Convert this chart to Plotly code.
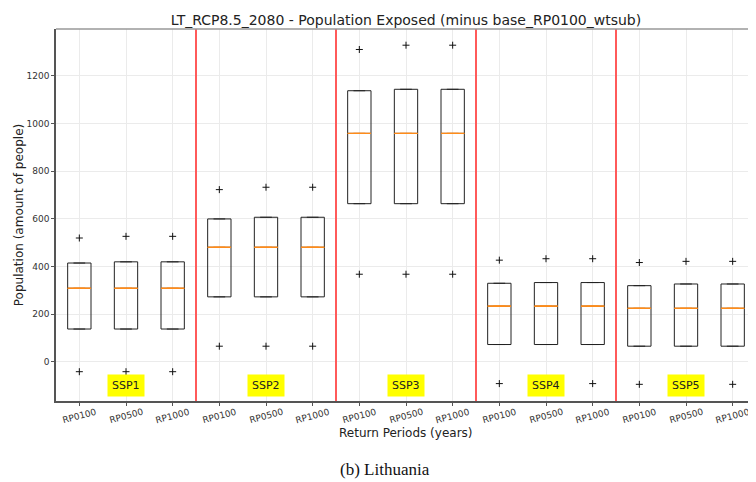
import plotly.graph_objects as go

groups = ["SSP1", "SSP2", "SSP3", "SSP4", "SSP5"]
return_periods = ["RP0100", "RP0500", "RP1000"]

q1 =     [138, 138, 138,   273, 273, 273,   664, 664, 664,   73, 73, 73,    66, 66, 66]
median = [309, 309, 309,   481, 481, 481,   959, 959, 959,   234, 234, 234, 225, 225, 225]
q3 =     [415, 420, 420,   600, 607, 607,   1138, 1144, 1144, 330, 333, 333, 320, 327, 327]
flier_high = [520, 527, 527, 723, 733, 733, 1311, 1329, 1329, 427, 433, 433, 417, 422, 422]
flier_low =  [-41, -41, -41, 66, 66, 66,    368, 368, 368,    -91, -91, -91, -94, -94, -94]

tick_labels = [rp for g in groups for rp in return_periods]
positions = list(range(len(tick_labels)))

fig = go.Figure()

fig.add_trace(go.Box(
    x=positions, q1=q1, median=median, q3=q3,
    lowerfence=q1, upperfence=q3,
    width=0.5, line=dict(color="#222222", width=1),
    fillcolor="rgba(0,0,0,0)", boxpoints=False, showlegend=False,
    hoverinfo="skip",
))
fig.add_trace(go.Box(
    x=positions, q1=median, median=median, q3=median,
    lowerfence=median, upperfence=median,
    width=0.5, line=dict(color="#ff8c1a", width=1),
    fillcolor="rgba(0,0,0,0)", boxpoints=False, showlegend=False,
    hoverinfo="skip",
))
fig.add_trace(go.Scatter(
    x=positions + positions, y=flier_high + flier_low, mode="markers",
    marker=dict(symbol="cross-thin", size=5, line=dict(color="#111111", width=1)),
    showlegend=False, hoverinfo="skip",
))

n = len(return_periods)
for i in range(1, len(groups)):
    fig.add_vline(x=i * n - 0.5, line=dict(color="#ff5a5a", width=2))

for i, g in enumerate(groups):
    fig.add_annotation(
        x=i * n + (n - 1) / 2, y=-100, text=g, showarrow=False,
        bgcolor="#ffff00", borderpad=4, yanchor="middle",
        font=dict(family="DejaVu Sans", size=11, color="#222222"),
    )

# rotated tick labels, centred under each tick (matplotlib style)
for p, lab in zip(positions, tick_labels):
    fig.add_annotation(
        x=p, y=-0.039, xref="x", yref="paper", text=lab, showarrow=False,
        textangle=-15, xanchor="center", yanchor="middle",
        font=dict(family="DejaVu Sans", size=9, color="#333333"),
    )

fig.add_annotation(
    x=0.47, y=-0.183, xref="paper", yref="paper", text="(b) Lithuania",
    showarrow=False, yanchor="middle",
    font=dict(family="Liberation Serif", size=17, color="#111111"),
)

fig.add_shape(type="line", xref="paper", yref="paper", x0=0, x1=1, y0=1, y1=1,
              line=dict(color="#999999", width=1.5))

W, H = 748, 474
fig.update_layout(
    width=W, height=H,
    margin=dict(l=48, r=0, t=21, b=81),
    plot_bgcolor="white", paper_bgcolor="white",
    boxmode="overlay",
    title=dict(text="LT_RCP8.5_2080 - Population Exposed (minus base_RP0100_wtsub)",
               x=398 / W, xanchor="center", y=1 - 12 / H, yanchor="middle",
               font=dict(family="DejaVu Sans", size=14, color="#222222"), automargin=False),
    font=dict(family="DejaVu Sans", color="#333333"),
)
fig.update_xaxes(
    range=[-0.5, len(positions) - 0.5], automargin=False,
    tickvals=positions, showticklabels=False,
    showgrid=True, gridcolor="#ebebeb", zeroline=False,
    showline=True, linecolor="#555555", linewidth=1.5,
    ticks="outside", ticklen=3, tickcolor="#555555",
)
fig.add_annotation(
    x=0.5, y=-0.085, xref="paper", yref="paper", text="Return Periods (years)",
    showarrow=False, yanchor="middle",
    font=dict(family="DejaVu Sans", size=12, color="#222222"),
)
fig.update_yaxes(
    range=[-164, 1397], automargin=False,
    tickvals=[0, 200, 400, 600, 800, 1000, 1200],
    tickfont=dict(size=9, color="#333333"),
    showgrid=True, gridcolor="#ebebeb", zeroline=False,
    showline=True, linecolor="#555555", linewidth=1.5,
    ticks="outside", ticklen=3, tickcolor="#555555",
    title=dict(text="Population (amount of people)", font=dict(size=12, color="#222222"), standoff=0),
)

fig.write_html("out.html")
